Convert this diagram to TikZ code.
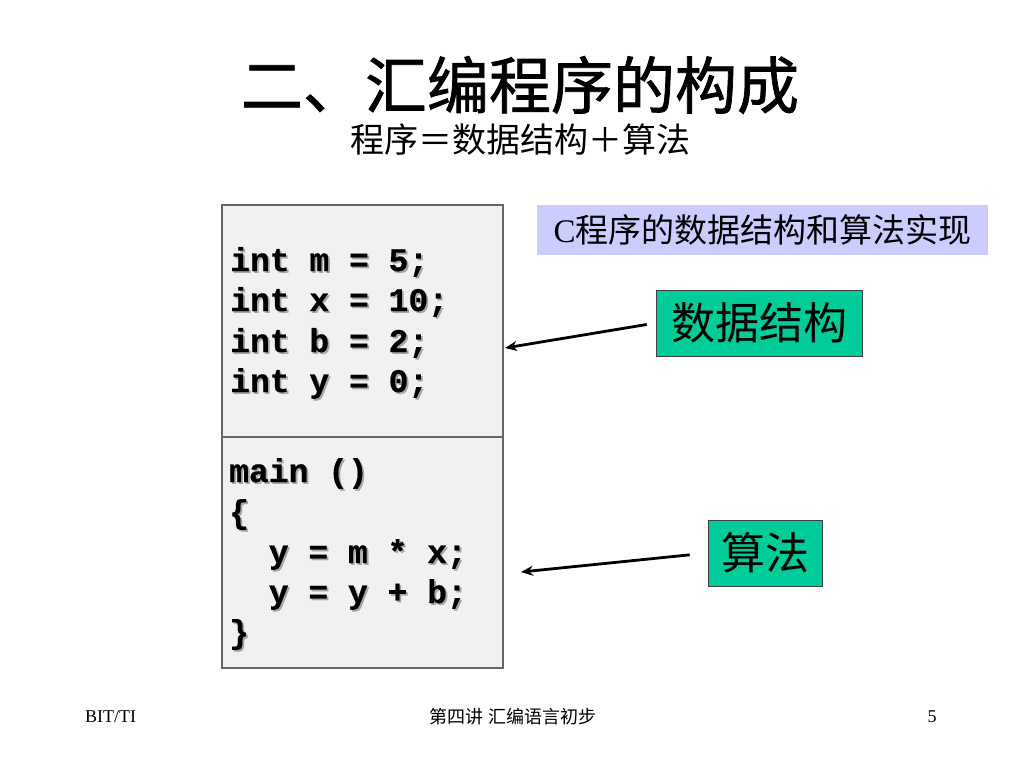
\documentclass[tikz,border=0pt]{standalone}
\usepackage{fontspec}
\setmainfont{Liberation Serif}
\newfontfamily\cjk{Noto Sans CJK SC}
\newfontfamily\cjktitle{Noto Sans CJK SC}[FakeBold=1.2]
\newfontfamily\codefont{Liberation Mono}[BoldFeatures={FakeBold=0.6}]
\usetikzlibrary{arrows.meta}
\definecolor{codebg}{HTML}{F1F1F1}
\definecolor{codeline}{HTML}{666666}
\definecolor{lav}{HTML}{CCCCFF}
\definecolor{teal}{HTML}{00CC99}
\tikzset{
  x=1pt, y=-1pt,
  codetxt/.style={anchor=base west, inner sep=0pt, font=\codefont\bfseries\fontsize{33}{33}\selectfont},
  shadow/.style={codetxt, text=black!35},
  greenbox/.style={draw=black!75, line width=0.8pt, fill=teal, inner sep=0pt, font=\cjk\fontsize{44}{44}\selectfont},
  arr/.style={line width=2.8pt, -{Stealth[length=12pt,width=10pt]}},
  foot/.style={inner sep=0pt, font=\fontsize{18}{18}\selectfont}
}
\begin{document}
\begin{tikzpicture}
\useasboundingbox (0,0) rectangle (1024,768);
% title
\node[inner sep=0pt, font=\cjktitle\fontsize{62}{62}\selectfont] (title) at (520,85) {二、汇编程序的构成};
\node[inner sep=0pt, font=\cjk\fontsize{34}{34}\selectfont] (sub) at (520,140) {程序＝数据结构＋算法};
% code box
\node[draw=codeline, line width=1.3pt, fill=codebg, minimum width=281pt, minimum height=232pt, inner sep=0pt] (data) at (362.5,321) {};
\node[draw=codeline, line width=1.3pt, fill=codebg, minimum width=281pt, minimum height=231pt, inner sep=0pt] (code) at (362.5,552.5) {};
% code text with shadow
\foreach \t/\yy/\xx [count=\i] in {{int m = 5;}/271/230,{int x = 10;}/311/230,{int b = 2;}/352/230,{int y = 0;}/392/230,{main ()}/482/229,{\{}/523/229,{\ \ y = m * x;}/563/229,{\ \ y = y + b;}/603/229,{\}}/643/229}{
  \node[shadow] (s\i) at (\xx+1.8,\yy+1.8) {\t};
  \node[codetxt] (c\i) at (\xx,\yy) {\t};
}
% caption
\node[fill=lav, minimum width=451pt, minimum height=50pt, inner sep=0pt, font=\fontsize{33}{33}\selectfont] (cap) at (762.5,230) {C{\cjk 程序的数据结构和算法实现}};
% labels
\node[greenbox, minimum width=206pt, minimum height=66pt] (ds) at (759,323) {数据结构};
\node[greenbox, minimum width=114pt, minimum height=66pt] (alg) at (765,553) {算法};
\coordinate (d1) at (505,348);
\coordinate (a1) at (521,572);
\draw[arr, shorten <=9pt] (ds.west) -- (d1);
\draw[arr, shorten <=18pt] (alg.west) -- (a1);
% footer
\node[foot, anchor=west] (f1) at (85,717) {BIT/TI};
\node[foot, font=\cjk\fontsize{18}{18}\selectfont] (f2) at (513,717) {第四讲 汇编语言初步};
\node[foot] (f3) at (932,717) {5};
\end{tikzpicture}
\end{document}
